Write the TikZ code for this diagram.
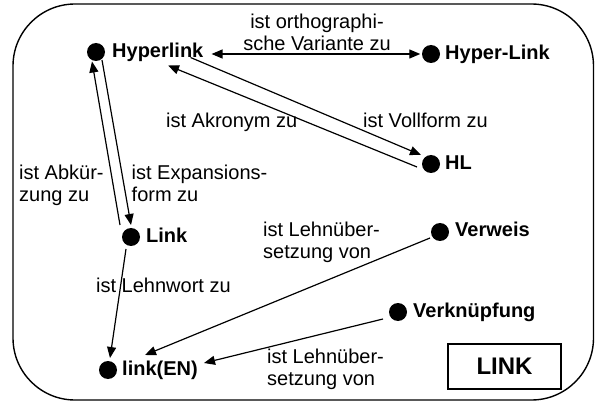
\documentclass[tikz,border=0pt]{standalone}
\usepackage{fontspec}
\setmainfont{Liberation Sans}
\usetikzlibrary{arrows.meta}
\begin{document}
\begin{tikzpicture}[x=1pt,y=-1pt,
  dot/.style={circle, fill=black, inner sep=0pt, minimum size=18pt},
  termlbl/.style={font=\bfseries\fontsize{20}{22}\selectfont, inner sep=0pt, anchor=base west},
  rellbl/.style={font=\fontsize{20}{22}\selectfont, inner sep=0pt},
  arr/.style={line width=1.2pt, -{Triangle[length=11pt,width=9pt]}},
]
\useasboundingbox (0,0) rectangle (595,401);
\draw[rounded corners=62pt, line width=1.4pt] (13,4) rectangle (593.5,400);

% terms
\node[dot] (hyper) at (96,52) {};
\node[termlbl] (hyperT) at (112,57.5) {Hyperlink};
\node[dot] (hyperL) at (431,54) {};
\node[termlbl] (hyperLT) at (445,59.5) {Hyper-Link};
\node[dot] (HL) at (431,164) {};
\node[termlbl] (HLT) at (445,169.5) {HL};
\node[dot] (link) at (131,237) {};
\node[termlbl] (linkT) at (146,242.5) {Link};
\node[dot] (linkEN) at (108,370) {};
\node[termlbl] (linkENT) at (122,375.5) {link(EN)};
\node[dot] (verweis) at (440,232) {};
\node[termlbl] (verweisT) at (455,236.5) {Verweis};
\node[dot] (verkn) at (398,312) {};
\node[termlbl] (verknT) at (413,317.5) {Verknüpfung};

\node[draw, line width=1.5pt, minimum width=113pt, minimum height=45pt,
      font=\bfseries\fontsize{24}{28}\selectfont] (linkbox) at (504.5,366.5) {LINK};

% relation labels
\node[rellbl, align=center, anchor=north] (orthL) at (317,13.5) {ist orthographi-\\sche Variante zu};
\node[rellbl, anchor=base west] (akrL) at (166,128) {ist Akronym zu};
\node[rellbl, anchor=base west] (vollL) at (363,128) {ist Vollform zu};
\node[rellbl, align=left, anchor=north west] (abkL) at (19,164.5) {ist Abkür-\\zung zu};
\node[rellbl, align=left, anchor=north west] (expL) at (131.5,164.5) {ist Expansions-\\form zu};
\node[rellbl, anchor=base west] (lwL) at (96,292) {ist Lehnwort zu};
\node[rellbl, align=left, anchor=north west] (lu1L) at (263,222) {ist Lehnüber-\\setzung von};
\node[rellbl, align=left, anchor=north west] (lu2L) at (267,348.7) {ist Lehnüber-\\setzung von};

% connectors
\draw[arr, {Triangle[length=11pt,width=9pt]}-{Triangle[length=11pt,width=9pt]}, shorten <=8pt, shorten >=1.5pt]
  (hyperT.east |- hyperL.west) -- (hyperL.west);
\draw[arr] ([shift={(-13,0)}]hyperT.base east) -- ([shift={(-10,-9)}]HL.center);
\draw[arr] ([shift={(-14,3)}]HL.center) -- ([shift={(56,8)}]hyperT.base west);
\draw[arr] ([shift={(-11,-12)}]link.center) -- ([shift={(-4,9.5)}]hyper.center);
\draw[arr] ([shift={(6,8)}]hyper.center) -- ([shift={(0,-12)}]link.center);
\draw[arr] ([shift={(-5,12)}]link.center) -- ([shift={(2,-12)}]linkEN.center);
\draw[arr] ([shift={(-10,6)}]verweis.center) -- ([shift={(37,-15)}]linkEN.center);
\draw[arr] ([shift={(-15,7)}]verkn.center) -- ([shift={(96,-7)}]linkEN.center);
\end{tikzpicture}
\end{document}
